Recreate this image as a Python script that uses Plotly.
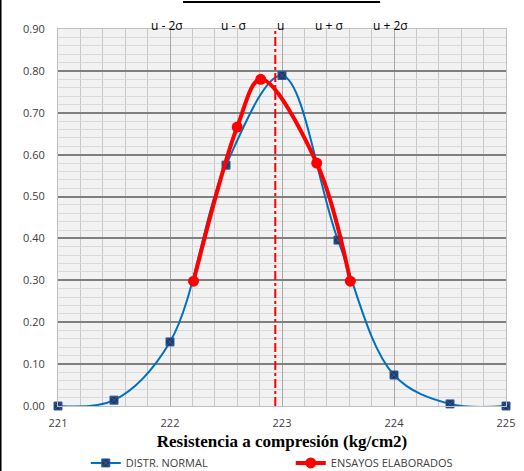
import plotly.graph_objects as go

# Normal distribution curve (resistance vs. probability density)
normal_x = [221.0, 221.5, 222.0, 222.5, 223.0, 223.5, 224.0, 224.5, 225.0]
normal_y = [0.000, 0.014, 0.153, 0.575, 0.789, 0.396, 0.074, 0.005, 0.000]

# Test results
tests_x = [222.21, 222.60, 222.81, 223.31, 223.61]
tests_y = [0.298, 0.666, 0.780, 0.580, 0.298]

# Mean marker and sigma labels along the top
mean_x = 222.94
sigma_labels = ["u - 2σ", "u - σ", "u", "u + σ", "u + 2σ"]
sigma_pos = [221.97, 222.57, 222.99, 223.42, 223.97]

fig = go.Figure()

fig.add_trace(go.Scatter(
    x=normal_x, y=normal_y, name="DISTR. NORMAL",
    mode="lines+markers", cliponaxis=False,
    line=dict(color="#0070C0", width=2, shape="spline", smoothing=1.0),
    marker=dict(symbol="square-x", size=8, color="#1F3864",
                line=dict(color="#2E5C9A", width=1)),
))

fig.add_trace(go.Scatter(
    x=tests_x, y=tests_y, name="ENSAYOS ELABORADOS",
    mode="lines+markers",
    line=dict(color="#FF0000", width=4, shape="spline", smoothing=1.0),
    marker=dict(symbol="circle", size=11, color="#FF0000"),
))

# Vertical mean line
fig.add_shape(type="line", xref="x", yref="y", x0=mean_x, x1=mean_x,
              y0=0, y1=0.905, line=dict(color="#FF0000", width=2, dash="dashdot"),
              layer="above")

# Top bar and left border
fig.add_shape(type="line", xref="paper", yref="paper", x0=0.279, x1=0.719,
              y0=1.0716, y1=1.0716, line=dict(color="black", width=2))
fig.add_shape(type="line", xref="paper", yref="paper", x0=-0.1283, x1=-0.1283,
              y0=-0.2, y1=1.1, line=dict(color="black", width=2))

for lab, px in zip(sigma_labels, sigma_pos):
    fig.add_annotation(x=px, y=1.037, xref="x", yref="paper", text=lab,
                       showarrow=False, font=dict(family="Open Sans", size=12, color="#000000"))

fig.update_layout(
    width=524, height=471,
    margin=dict(l=58, r=18, t=29, b=65, autoexpand=False),
    paper_bgcolor="white", plot_bgcolor="#F2F2F2",
    font=dict(family="Open Sans", size=11, color="#404040"),
    showlegend=True,
    legend=dict(orientation="h", x=0.062, y=-0.151, xanchor="left", yanchor="middle",
                entrywidth=160, entrywidthmode="pixels",
                font=dict(family="Open Sans", size=11, color="#404040"),
                itemwidth=30, tracegroupgap=0, bgcolor="rgba(0,0,0,0)"),
    xaxis=dict(
        range=[221, 225], dtick=1, tick0=221, tickformat="d",
        showgrid=True, gridcolor="#A6A6A6", gridwidth=1,
        minor=dict(dtick=0.2, showgrid=True, gridcolor="#C8C8C8", gridwidth=1),
        showline=True, linecolor="#BFBFBF", linewidth=1, mirror=True,
        zeroline=False, ticks="", ticklabelstandoff=7, automargin=False,
        tickfont=dict(family="Open Sans", size=11, color="#404040"),
        title=dict(text="<b>Resistencia a compresión (kg/cm2)</b>",
                   font=dict(family="Liberation Serif", size=17, color="#000000"),
                   standoff=5),
    ),
    yaxis=dict(
        range=[0, 0.9], dtick=0.1, tickformat=".2f",
        showgrid=True, gridcolor="#7F7F7F", gridwidth=2,
        minor=dict(dtick=0.02, showgrid=True, gridcolor="#D9D9D9", gridwidth=1),
        showline=True, linecolor="#BFBFBF", linewidth=1, mirror=True,
        zeroline=False, ticks="", ticklabelstandoff=10, automargin=False,
        tickfont=dict(family="Open Sans", size=11, color="#404040"),
    ),
)

fig.write_html("out.html")
